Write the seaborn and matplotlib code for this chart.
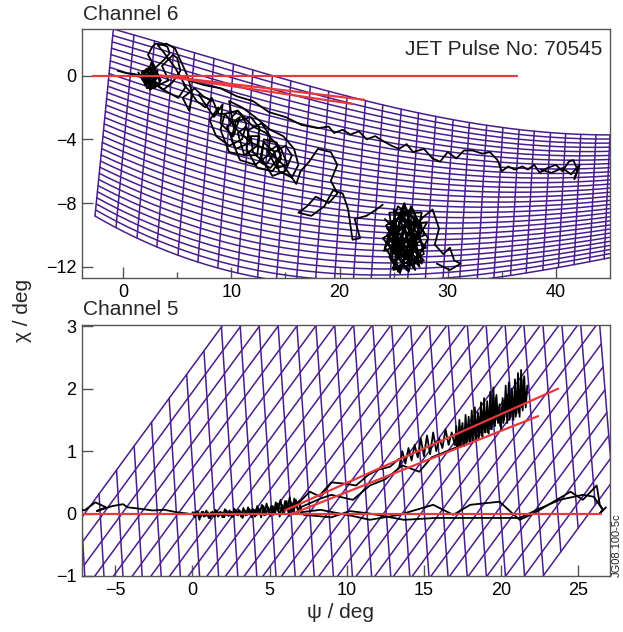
import numpy as np
import matplotlib
matplotlib.use("Agg")
import matplotlib.pyplot as plt
import seaborn as sns

sns.set_theme(style="white")
plt.rcParams['font.family'] = ['Liberation Sans', 'DejaVu Sans']

# ---------------- data ----------------
# Channel 6 mesh (curvilinear): boundary rows and column positions
m6_top_psi = [-0.92, 9.7, 18.2, 29.3, 38.5, 45.0]
m6_top_chi = [2.92, 0.79, -0.79, -2.70, -3.45, -3.75]
m6_bot_psi = [-2.6, 3.4, 13.3, 24.3, 35.4, 45.0]
m6_bot_chi = [-8.73, -11.0, -12.65, -13.25, -12.65, -11.4]
m6_n_rows = 31
m6_col_top = [-0.9, 1.0, 2.9, 4.7, 6.6, 8.4, 10.2, 12.0, 13.8, 15.5, 17.3, 19.0, 20.7, 22.4,
              24.0, 25.7, 27.3, 28.9, 30.5, 32.0, 33.6, 35.1, 36.6, 38.0, 39.5, 40.9, 42.3,
              43.7, 45.0, 46.3]
m6_col_bot = [-2.6, -0.66, 1.28, 3.12, 5.07, 6.91, 8.75, 10.59, 12.43, 14.17, 16.01, 17.76,
              19.5, 21.24, 22.88, 24.62, 26.26, 27.9, 29.54, 31.09, 32.73, 34.27, 35.81,
              37.25, 38.79, 40.23, 41.68, 43.12, 44.46, 45.8]

# Channel 5 mesh (parallelogram): A lines psi at chi=0 and tilt dpsi/dchi; B lines psi at chi=0
m5_a0 = [-7.22, -5.98, -4.75, -3.51, -2.28, -1.04, 0.20, 1.43, 2.67, 3.90, 5.14, 6.38, 7.61,
         8.85, 10.08, 11.32, 12.56, 13.79, 15.03, 16.26, 17.50, 18.74, 19.97, 21.21, 22.44,
         23.68, 24.92, 26.15, 27.39]
m5_a_tilt = [-0.240, -0.243, -0.246, -0.250, -0.253, -0.256, -0.259, -0.263, -0.266, -0.269,
             -0.272, -0.275, -0.279, -0.282, -0.285, -0.288, -0.291, -0.295, -0.298, -0.301,
             -0.304, -0.307, -0.311, -0.314, -0.317, -0.320, -0.323, -0.327, -0.330]
m5_b0 = [-6.99, -5.78, -4.57, -3.36, -2.15, -0.93, 0.28, 1.49, 2.70, 3.91, 5.12, 6.33, 7.54,
         8.75, 9.96, 11.17, 12.38, 13.59, 14.80, 16.01, 17.22, 18.43, 19.64, 20.85, 22.06,
         23.27, 24.48, 25.69]
m5_b_slope = 0.337

# Channel 6 measured trajectories
c6_start_psi = [-0.5, 0.3, 1.0, 1.6, 2.2, 1.8, 2.6, 2.0, 3.0, 2.4,
                1.7, 2.8, 3.2, 2.2, 2.6, 3.4, 2.5, 1.9, 2.9, 2.3,
                2.7, 3.0, 3.6, 4.1, 4.3, 3.8, 3.0, 2.4, 3.3, 4.2,
                3.6, 4.6, 5.0, 5.3, 4.6, 3.7, 2.9, 4.0, 5.1, 5.8,
                4.8, 3.7, 3.2, 4.0, 4.8, 5.4, 6.0, 6.4, 6.1, 5.5,
                6.6, 7.4, 8.2]
c6_start_chi = [0.3, 0.15, 0.1, 0.0, 0.4, -0.3, 0.2, -0.6, -0.2, 0.5,
                0.2, -0.7, 0.3, -0.1, 0.8, -0.4, -0.9, 0.1, 0.6, 1.3,
                1.8, 2.0, 1.95, 1.8, 1.4, 1.0, 0.5, 0.0, -0.6, -0.3,
                0.6, 1.3, 1.1, 0.3, -0.4, -0.9, -0.5, -1.0, -1.4, -0.7,
                0.5, 1.5, 1.9, 2.0, 1.7, 0.8, -0.1, -1.2, -2.2, -1.4,
                -0.8, -1.3, -1.6]
c6_knot_psi = [1.4, 2.0, 2.6, 3.1, 2.2, 1.8, 2.4, 3.0, 2.7, 2.0,
               2.5, 3.3, 2.8, 2.1, 2.9, 3.5, 3.0, 2.3, 2.6, 1.9]
c6_knot_chi = [0.2, -0.5, 0.3, -0.6, -0.8, 0.3, -0.2, 0.4, -0.4, 0.1,
               -0.7, 0.0, 0.5, -0.3, -0.8, -0.3, 0.2, 0.0, -0.5, -0.1]
c6_mid_psi = [8.8, 8.0, 8.6, 9.8, 11.0, 11.4, 10.6, 9.4, 9.0, 9.8,
              11.2, 12.4, 12.6, 11.8, 10.4, 10.0, 10.8, 12.2, 13.4, 13.6,
              12.8, 11.6, 11.4, 12.4, 13.8, 14.6, 14.2, 13.0, 12.8, 13.8,
              15.0, 15.6, 15.0, 14.0, 14.4, 15.6, 16.2, 15.8, 14.8, 13.6,
              12.2, 11.0, 9.8, 10.2, 11.8, 13.2, 14.8, 16.0, 16.4, 17.2,
              18.0, 19.2, 19.8, 19.2, 19.8, 19.0, 17.8, 17.0, 16.2, 17.4,
              18.6, 19.4, 20.3, 20.8, 21.2, 21.9, 21.4, 22.5, 23.4, 24.0]
c6_mid_chi = [-2.0, -2.8, -3.8, -4.4, -4.0, -3.0, -2.2, -2.4, -3.4, -4.8,
              -5.0, -4.4, -3.3, -2.6, -2.9, -4.0, -5.3, -5.6, -5.0, -3.8,
              -3.0, -3.4, -4.6, -5.8, -6.0, -5.2, -4.2, -4.0, -5.2, -6.3,
              -6.0, -5.0, -4.4, -4.8, -6.0, -6.4, -5.6, -4.6, -3.8, -3.4,
              -2.6, -2.0, -1.6, -3.2, -4.2, -4.6, -5.6, -6.8, -6.0, -5.4,
              -4.6, -4.8, -5.6, -6.6, -7.4, -8.0, -7.6, -8.2, -8.6, -8.8,
              -8.2, -7.2, -7.4, -8.4, -10.3, -10.2, -9.0, -8.8, -8.4, -8.1]
c6_mid2_psi = [7.0, 8.4, 9.2, 9.0, 10.2, 10.8, 9.6, 10.4, 11.8, 11.4,
               10.6, 11.2, 12.4, 12.6, 11.8, 12.0, 13.2, 14.0, 13.0, 12.6,
               13.6, 14.6, 14.2, 13.4, 14.2, 15.2, 14.6, 13.2, 12.0, 10.6,
               9.8, 10.4, 9.4, 8.8, 8.2, 7.6, 6.8, 6.2, 5.6]
c6_mid2_chi = [-1.2, -2.6, -1.8, -3.0, -3.8, -2.6, -3.2, -4.6, -4.2, -3.2,
               -3.6, -5.0, -5.0, -3.8, -3.8, -4.8, -5.6, -4.8, -4.2, -5.4,
               -5.8, -5.0, -4.4, -4.8, -5.8, -5.6, -4.6, -3.6, -3.2, -2.2,
               -2.8, -3.2, -2.4, -2.4, -1.4, -2.0, -1.6, -1.0, -0.6]
c6_blob_psi = [24.2, 27.8, 25.0, 26.6, 27.9, 24.1, 26.0, 27.4, 24.4, 28.1,
               25.4, 24.6, 27.6, 26.4, 24.0, 27.2, 25.8, 25.0, 28.0, 24.8,
               25.6, 26.8, 24.5, 26.2, 27.5, 25.2, 26.0, 27.0, 24.3, 26.8,
               27.8, 25.4, 24.2, 25.4, 27.6, 26.4, 24.8, 26.6, 25.6, 24.6,
               26.0, 28.2, 26.8, 24.4, 25.8, 27.2, 25.2, 25.4, 27.0, 26.2,
               24.8, 26.4, 27.6, 25.0, 25.9, 27.3, 24.9, 26.5, 25.3, 27.7,
               28.6, 29.2, 28.8, 29.6, 30.2, 30.6, 31.2, 30.2, 29.0]
c6_blob_chi = [-9.0, -11.6, -12.2, -8.2, -10.0, -11.0, -8.0, -12.0, -9.6, -9.2,
               -12.3, -8.6, -8.6, -12.3, -10.2, -9.0, -11.8, -8.4, -10.8, -11.6,
               -9.0, -11.2, -10.6, -8.6, -10.4, -11.0, -9.4, -12.2, -9.4, -8.4,
               -11.2, -12.0, -10.8, -8.2, -9.4, -11.6, -9.2, -10.0, -12.4, -11.4,
               -8.2, -10.2, -12.0, -10.0, -8.6, -10.6, -11.6, -9.6, -9.2, -12.2,
               -10.4, -9.0, -11.8, -10.0, -8.8, -11.4, -12.1, -9.8, -10.9, -8.9,
               -8.4, -9.6, -10.6, -11.2, -10.8, -11.6, -11.8, -12.2, -11.8]
c6_path2_psi = [6.0, 7.5, 9.0, 10.5, 12.0, 13.5, 15.0, 16.5, 18.0, 19.0,
                19.5, 20.3, 21.0, 21.8, 22.5, 23.3, 24.0, 24.8, 25.5, 26.2,
                26.8, 27.8, 28.6, 29.3, 30.0, 30.8, 31.5, 32.3, 33.2, 33.9,
                34.6, 35.0, 35.6, 36.2, 36.9, 37.4, 38.0, 38.5, 39.2, 40.0,
                40.6, 41.2, 41.6, 42.0, 41.7, 42.2, 41.4, 40.6, 39.6, 38.6]
c6_path2_chi = [-0.3, -0.6, -0.8, -1.3, -1.6, -2.3, -2.6, -3.1, -3.3, -3.2,
                -3.6, -3.4, -3.7, -3.5, -4.0, -3.8, -4.1, -4.4, -4.6, -4.3,
                -4.8, -4.6, -5.2, -5.4, -4.8, -5.2, -4.7, -4.7, -4.9, -4.8,
                -5.3, -6.0, -5.7, -5.9, -5.7, -5.9, -5.6, -6.1, -5.8, -5.6,
                -6.0, -5.4, -5.3, -5.9, -6.5, -5.6, -6.2, -5.8, -6.1, -5.9]
c6_red_psi = [[-2.8, 36.4], [3.4, 22.3], [3.4, 21.2]]
c6_red_chi = [[0.0, 0.0], [0.0, -1.52], [0.0, -1.78]]

# Channel 5 measured trajectories
c5_left_psi = [-7.6, -7.0, -6.3, -5.6, -6.2, -5.2, -4.5, -4.2, -3.5, -2.6, -1.8, -1.0, -0.3]
c5_left_chi = [0.10, 0.05, 0.18, 0.10, 0.04, 0.12, 0.15, 0.10, 0.08, 0.05, 0.06, 0.02, 0.00]
c5_bandA_psi = [0.0, 0.15, 0.3, 0.45, 0.6, 0.75, 0.9, 1.05, 1.2, 1.35,
                1.5, 1.65, 1.8, 1.95, 2.1, 2.25, 2.4, 2.55, 2.7, 2.85,
                3.0, 3.15, 3.3, 3.45, 3.6, 3.75, 3.9, 4.05, 4.2, 4.35,
                4.5, 4.65, 4.8, 4.95, 5.1, 5.25, 5.4, 5.55, 5.7, 5.85,
                6.0, 6.15, 6.3, 6.45, 6.6, 6.75, 6.9, 7.05]
c5_bandA_chi = [0.02, -0.06, 0.04, -0.10, 0.03, -0.05, 0.05, -0.07, 0.02, -0.04,
                0.06, -0.05, 0.03, -0.06, 0.07, -0.03, 0.05, -0.06, 0.08, -0.02,
                0.06, -0.05, 0.09, -0.03, 0.10, -0.02, 0.08, -0.05, 0.12, 0.00,
                0.14, -0.03, 0.16, 0.02, 0.12, -0.02, 0.18, 0.04, 0.22, 0.00,
                0.20, 0.06, 0.26, 0.04, 0.24, 0.10, 0.20, 0.06]
c5_bandB_psi = [7.0, 6.85, 6.7, 6.55, 6.4, 6.25, 6.1, 5.95, 5.8, 5.65,
                5.5, 5.35, 5.2, 5.05, 4.9, 4.75, 4.6, 4.45, 4.3, 4.15,
                4.0, 3.85, 3.7, 3.55, 3.4, 3.25, 3.1, 2.95, 2.8, 2.65,
                2.5, 2.35, 2.2, 2.05, 1.9, 1.75, 1.6, 1.45, 1.3, 1.15,
                1.0, 0.85, 0.7, 0.55, 0.4, 0.25, 0.1]
c5_bandB_chi = [0.15, 0.02, 0.22, 0.00, 0.18, -0.04, 0.20, 0.02, 0.14, -0.05,
                0.16, 0.00, 0.12, -0.04, 0.10, -0.02, 0.12, -0.06, 0.08, -0.03,
                0.06, -0.06, 0.07, -0.02, 0.05, -0.07, 0.04, -0.03, 0.06, -0.05,
                0.03, -0.04, 0.05, -0.06, 0.02, -0.03, 0.04, -0.05, 0.03, -0.08,
                0.02, -0.04, 0.03, -0.05, 0.01, -0.03, 0.02]
c5_up1_psi = [5.0, 6.0, 7.0, 7.6, 8.2, 9.0, 9.8, 10.6, 11.4, 12.0, 12.8, 13.4]
c5_up1_chi = [0.05, 0.10, 0.20, 0.35, 0.28, 0.50, 0.48, 0.45, 0.62, 0.70, 0.75, 0.88]
c5_up2_psi = [7.0, 8.3, 9.0, 10.4, 11.5, 12.5, 13.6, 14.7, 15.5, 16.5, 17.5]
c5_up2_chi = [0.10, 0.24, 0.30, 0.22, 0.45, 0.55, 0.77, 0.67, 0.90, 1.00, 1.10]
c5_mid_psi = [13.4, 13.6, 13.8, 14.0, 14.2, 14.4, 14.6, 14.8, 15.0, 15.2,
              15.4, 15.6, 15.8, 16.0, 16.2, 16.4, 16.6, 16.8, 17.0]
c5_mid_chi = [0.75, 1.00, 0.80, 1.05, 0.85, 1.10, 0.90, 1.20, 0.92, 1.25,
              0.95, 1.30, 1.00, 1.20, 1.05, 1.35, 1.10, 1.30, 1.10]
c5_clu_psi = [17.0, 17.1, 17.2, 17.3, 17.4, 17.5, 17.6, 17.7, 17.8, 17.9,
              18.0, 18.1, 18.2, 18.3, 18.4, 18.5, 18.6, 18.7, 18.8, 18.9,
              19.0, 19.1, 19.2, 19.3, 19.4, 19.5, 19.6, 19.7, 19.8, 19.9,
              20.0, 20.1, 20.2, 20.3, 20.4, 20.5, 20.6, 20.7, 20.8, 20.9,
              21.0, 21.1, 21.2, 21.3, 21.4, 21.5, 21.6, 21.7]
c5_clu_chi = [1.10, 1.40, 1.05, 1.50, 1.12, 1.45, 1.08, 1.58, 1.15, 1.55,
              1.12, 1.65, 1.20, 1.70, 1.18, 1.62, 1.25, 1.78, 1.22, 1.85,
              1.30, 1.80, 1.28, 1.95, 1.35, 2.02, 1.40, 1.90, 1.45, 1.75,
              1.35, 1.85, 1.50, 2.05, 1.45, 2.10, 1.55, 2.00, 1.50, 2.15,
              1.60, 2.25, 1.55, 2.30, 1.65, 2.20, 1.70, 2.05]
c5_clu2_psi = [21.65, 21.55, 21.45, 21.35, 21.25, 21.15, 21.05, 20.95, 20.85, 20.75,
               20.65, 20.55, 20.45, 20.35, 20.25, 20.15, 20.05, 19.95, 19.85, 19.75,
               19.65, 19.55, 19.45, 19.35, 19.25, 19.15, 19.05, 18.95, 18.85, 18.75,
               18.65, 18.55, 18.45, 18.35, 18.25, 18.15, 18.05, 17.95, 17.85, 17.75,
               17.65, 17.55, 17.45, 17.35, 17.25, 17.15, 17.05]
c5_clu2_chi = [1.95, 1.75, 2.15, 1.70, 2.00, 1.62, 1.90, 1.55, 1.85, 1.60,
               1.75, 1.50, 1.90, 1.55, 1.80, 1.45, 1.70, 1.40, 1.60, 1.50,
               1.85, 1.45, 1.75, 1.35, 1.70, 1.30, 1.60, 1.30, 1.65, 1.25,
               1.55, 1.20, 1.50, 1.20, 1.45, 1.15, 1.40, 1.15, 1.35, 1.10,
               1.30, 1.12, 1.40, 1.08, 1.30, 1.05, 1.20]
c5_flat1_psi = [7.0, 8.3, 10.4, 11.5, 13.4, 15.6, 16.9, 18.0, 19.9, 21.2, 22.1, 23.4, 24.5,
                25.3, 26.2, 26.4, 26.6]
c5_flat1_chi = [0.02, 0.06, -0.04, -0.10, -0.02, 0.14, -0.02, 0.14, 0.19, -0.10, 0.00, 0.19,
                0.35, 0.22, 0.45, 0.14, 0.06]
c5_flat2_psi = [7.2, 9.0, 10.2, 11.5, 13.7, 15.8, 17.5, 19.5, 21.2, 22.5, 23.8, 25.3, 26.0,
                26.6, 26.4, 26.8]
c5_flat2_chi = [-0.02, -0.06, 0.04, 0.00, -0.10, -0.07, -0.07, -0.07, -0.07, 0.08, 0.22, 0.30,
                0.27, 0.06, 0.00, 0.10]
c5_red_psi = [[-7.3, 26.5], [6.0, 23.7], [6.5, 22.4]]
c5_red_chi = [[0.0, 0.0], [0.05, 2.0], [0.0, 1.56]]

# ---------------- style ----------------
MESH = "#4a1d8e"
RED = "#e8383d"
FRAME = "#555555"
TRACE_LW = 1.3

fig = plt.figure(figsize=(6.23, 6.32), dpi=100)
ax1 = fig.add_axes([82/623, 1 - 278/632, 528/623, 249/632])
ax2 = fig.add_axes([82/623, 1 - 576/632, 528/623, 251/632])

# ---- Channel 6 mesh ----
top_fit = np.polyfit(m6_top_psi, m6_top_chi, 3)
bot_fit = np.polyfit(m6_bot_psi, m6_bot_chi, 3)


def row_chi(t, psi):
    return (1 - t) * np.polyval(top_fit, psi) + t * np.polyval(bot_fit, psi)


ct = np.array(m6_col_top)
cb = np.array(m6_col_bot)
for t in np.linspace(0, 1, m6_n_rows):
    p = np.linspace(ct[0] + t * (cb[0] - ct[0]), ct[-1] + t * (cb[-1] - ct[-1]), 300)
    ax1.plot(p, row_chi(t, p), color=MESH, lw=1.1, zorder=1)
tt = np.linspace(0, 1, 60)
for a, b in zip(ct, cb):
    p = a + tt * (b - a)
    ax1.plot(p, row_chi(tt, p), color=MESH, lw=1.1, zorder=1)


# ---- Channel 5 mesh ----
def a_meet_b(a0, ta, b0):
    psi = (a0 - ta * m5_b_slope * b0) / (1 - ta * m5_b_slope)
    return psi, m5_b_slope * (psi - b0)


for a0, ta in zip(m5_a0, m5_a_tilt):
    p1 = a_meet_b(a0, ta, m5_b0[0])
    p2 = a_meet_b(a0, ta, m5_b0[-1])
    ax2.plot([p1[0], p2[0]], [p1[1], p2[1]], color=MESH, lw=1.1, zorder=1)
for b0 in m5_b0:
    p1 = a_meet_b(m5_a0[0], m5_a_tilt[0], b0)
    p2 = a_meet_b(m5_a0[-1], m5_a_tilt[-1], b0)
    ax2.plot([p1[0], p2[0]], [p1[1], p2[1]], color=MESH, lw=1.1, zorder=1)

# ---- traces ----
for xs, ys in [(c6_start_psi, c6_start_chi), (c6_knot_psi, c6_knot_chi),
               (c6_mid_psi, c6_mid_chi), (c6_mid2_psi, c6_mid2_chi),
               (c6_blob_psi, c6_blob_chi), (c6_path2_psi, c6_path2_chi)]:
    sns.lineplot(x=xs, y=ys, sort=False, estimator=None, ax=ax1, color="black", lw=TRACE_LW,
                 zorder=3)
for xs, ys in zip(c6_red_psi, c6_red_chi):
    ax1.plot(xs, ys, color=RED, lw=1.6, zorder=4)

for xs, ys in [(c5_left_psi, c5_left_chi), (c5_bandA_psi, c5_bandA_chi),
               (c5_bandB_psi, c5_bandB_chi), (c5_up1_psi, c5_up1_chi),
               (c5_up2_psi, c5_up2_chi), (c5_mid_psi, c5_mid_chi), (c5_clu_psi, c5_clu_chi),
               (c5_clu2_psi, c5_clu2_chi),
               (c5_flat1_psi, c5_flat1_chi), (c5_flat2_psi, c5_flat2_chi)]:
    sns.lineplot(x=xs, y=ys, sort=False, estimator=None, ax=ax2, color="black", lw=TRACE_LW,
                 zorder=3)
for xs, ys in zip(c5_red_psi, c5_red_chi):
    ax2.plot(xs, ys, color=RED, lw=1.6, zorder=4)

# ---- axes ----
ax1.set_xlim(-3.8, 45.0)
ax1.set_ylim(-12.7, 2.92)
ax1.set_xticks([0, 10, 20, 30, 40])
ax1.set_xticks([5, 15, 25, 35], minor=True)
ax1.set_yticks([-12, -8, -4, 0])
ax1.set_yticklabels(["\u221212", "\u22128", "\u22124", "0"])

ax2.set_xlim(-7.16, 27.06)
ax2.set_ylim(-0.96, 3.02)
ax2.set_xticks([-5, 0, 5, 10, 15, 20, 25])
ax2.set_xticklabels(["\u22125", "0", "5", "10", "15", "20", "25"])
ax2.set_yticks([-1, 0, 1, 2, 3])
ax2.set_yticklabels(["\u22121", "0", "1", "2", "3"])

for ax in (ax1, ax2):
    ax.tick_params(axis="both", which="major", direction="in", length=8, width=1.0,
                   color=FRAME, labelsize=13, labelcolor="black", pad=4,
                   bottom=True, left=True, top=False, right=False)
    ax.tick_params(axis="both", which="minor", direction="in", length=4, width=1.0,
                   color=FRAME, bottom=True, left=True)
    for s in ax.spines.values():
        s.set_color(FRAME)
        s.set_linewidth(1.0)
    ax.set_xlabel("")
    ax.set_ylabel("")
    ax.grid(False)

fig.text(83/623, 1 - 15/632, "Channel 6", fontsize=15, ha="left", va="center")
fig.text(83/623, 1 - 310/632, "Channel 5", fontsize=15, ha="left", va="center")
ax1.text(0.985, 0.957, "JET Pulse No: 70545", transform=ax1.transAxes, fontsize=15,
         ha="right", va="top")
fig.text(340/623, 1 - 613/632, "\u03c8 / deg", fontsize=15, ha="center", va="center")
fig.text(22/623, 1 - 310/632, "\u03c7 / deg", fontsize=15, ha="center", va="center",
         rotation=90)
fig.text(617/623, 1 - 545/632, "JG08.100-5c", fontsize=8, ha="center", va="center",
         rotation=90)

fig.savefig("out.png", dpi=100)
